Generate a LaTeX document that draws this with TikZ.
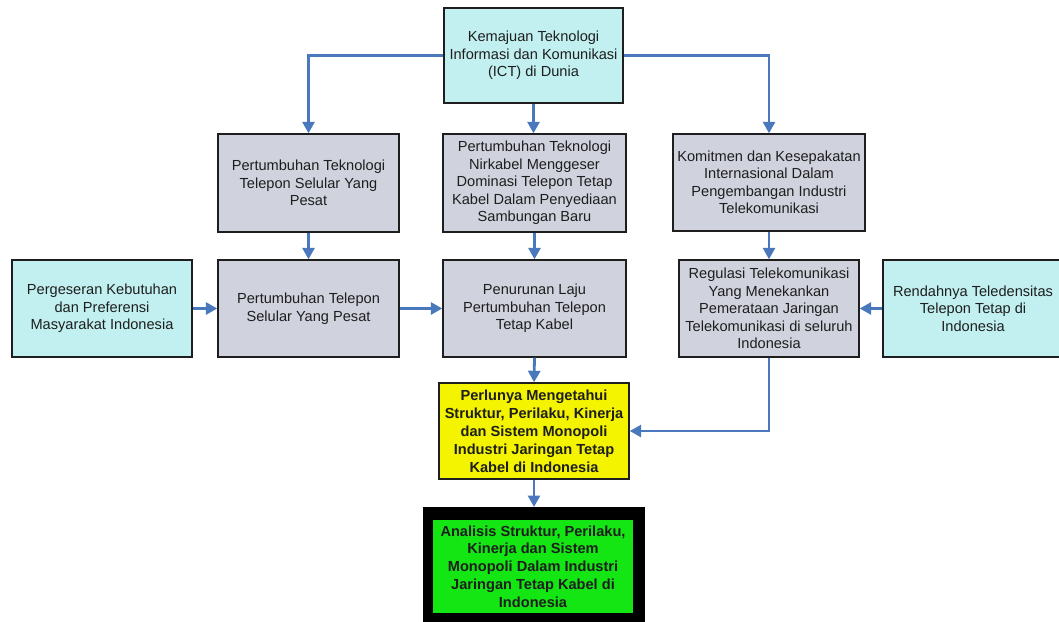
\documentclass[tikz,border=0pt]{standalone}
\usepackage{fontspec}
\setmainfont{Liberation Sans}
\usetikzlibrary{arrows.meta}
\definecolor{flowblue}{HTML}{4A78BC}
\definecolor{boxcyan}{HTML}{C2F0F0}
\definecolor{boxgray}{HTML}{D0D3DE}
\definecolor{boxyellow}{HTML}{F4F400}
\definecolor{boxgreen}{HTML}{14E614}
\definecolor{inkgray}{HTML}{1E1E1E}
\tikzset{
  box/.style={draw=inkgray, line width=1.4pt, align=center, inner sep=0pt,
    text=inkgray, font=\fontsize{14.6}{17.5}\selectfont},
  graybox/.style={box, fill=boxgray},
  cyanbox/.style={box, fill=boxcyan},
  flow/.style={draw=flowblue, line width=2.8pt,
    -{Triangle[length=11.5pt,width=12pt]}},
}
\begin{document}
\begin{tikzpicture}[x=1pt,y=-1pt]
\useasboundingbox (0,0) rectangle (1059,621);
\fill[white] (0,0) rectangle (1059,621);

% source of all developments
\node[cyanbox, minimum width=179, minimum height=95] (top) at (533.5,55.5)
  {Kemajuan Teknologi\\Informasi dan Komunikasi\\(ICT) di Dunia};

% second row
\node[graybox, minimum width=181, minimum height=98] (A) at (308.5,183)
  {Pertumbuhan Teknologi\\Telepon Selular Yang\\Pesat};
\node[graybox, minimum width=183, minimum height=98] (B) at (534.5,183)
  {Pertumbuhan Teknologi\\Nirkabel Menggeser\\Dominasi Telepon Tetap\\Kabel Dalam Penyediaan\\Sambungan Baru};
\node[graybox, minimum width=192, minimum height=97] (C) at (769,182.5)
  {Komitmen dan Kesepakatan\\Internasional Dalam\\Pengembangan Industri\\Telekomunikasi};

% third row
\node[cyanbox, minimum width=180, minimum height=97] (L) at (102,308.5)
  {Pergeseran Kebutuhan\\dan Preferensi\\Masyarakat Indonesia};
\node[graybox, minimum width=181, minimum height=97] (D) at (308.5,308.5)
  {Pertumbuhan Telepon\\Selular Yang Pesat};
\node[graybox, minimum width=183, minimum height=97] (E) at (534.5,308.5)
  {Penurunan Laju\\Pertumbuhan Telepon\\Tetap Kabel};
\node[graybox, minimum width=180, minimum height=97] (F) at (769,308.5)
  {Regulasi Telekomunikasi\\Yang Menekankan\\Pemerataan Jaringan\\Telekomunikasi di seluruh\\Indonesia};
\node[cyanbox, minimum width=180, minimum height=97] (R) at (973,308.5)
  {Rendahnya Teledensitas\\Telepon Tetap di\\Indonesia};

% problem statement
\node[box, fill=boxyellow, minimum width=190, minimum height=96,
  font=\bfseries\fontsize{14.6}{18}\selectfont] (Y) at (534,431)
  {Perlunya Mengetahui\\Struktur, Perilaku, Kinerja\\dan Sistem Monopoli\\Industri Jaringan Tetap\\Kabel di Indonesia};

% research focus in a heavy black frame
\node[fill=black, inner sep=0pt, minimum width=222, minimum height=130,
  anchor=north west] (Gframe) at (423,507) {};
\node[fill=boxgreen, inner sep=0pt, minimum width=200, minimum height=93,
  align=center, text=inkgray, font=\bfseries\fontsize{14.6}{17.8}\selectfont]
  (G) at (533,566.5)
  {Analisis Struktur, Perilaku,\\Kinerja dan Sistem\\Monopoli Dalam Industri\\Jaringan Tetap Kabel di\\Indonesia};

% connectors
\draw[flow] (top.west) -| (A.north);
\draw[flow] (top.east) -| (C.north);
\draw[flow] (top.south) -- (top.south |- B.north);
\draw[flow] (A.south) -- (D.north);
\draw[flow] (B.south) -- (E.north);
\draw[flow] (C.south) -- (F.north);
\draw[flow] (L.east) -- (D.west);
\draw[flow] (D.east) -- (E.west);
\draw[flow] (R.west) -- (F.east);
\draw[flow] (E.south) -- (Y.north);
\draw[flow] (F.south) |- (Y.east);
\draw[flow] (Y.south) -- (Y.south |- Gframe.north);
\end{tikzpicture}
\end{document}
